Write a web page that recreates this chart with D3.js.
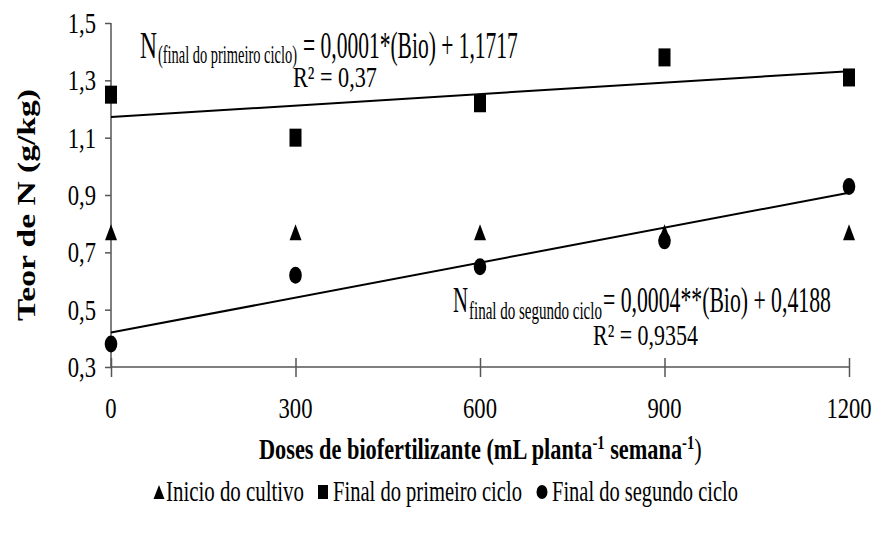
<!DOCTYPE html>
<html>
<head>
<meta charset="utf-8">
<script src="https://cdn.jsdelivr.net/npm/d3@7"></script>
<style>
  html, body { margin: 0; padding: 0; background: #fff; }
</style>
</head>
<body>
<svg id="chart" width="876" height="536"></svg>
<script>
// Doses of biofertilizer (mL planta-1 semana-1)
const doses = [0, 300, 600, 900, 1200];
// N content (g/kg) for each sampling moment
const inicioCultivo = [0.77, 0.77, 0.77, 0.77, 0.77];
const finalPrimeiroCiclo = [1.25, 1.10, 1.22, 1.38, 1.31];
const finalSegundoCiclo = [0.38, 0.62, 0.65, 0.74, 0.93];

const yTicks = [0.3, 0.5, 0.7, 0.9, 1.1, 1.3, 1.5];
const xTicks = [0, 300, 600, 900, 1200];

const legendLabels = ["Inicio do cultivo", "Final do primeiro ciclo", "Final do segundo ciclo"];
const eqPrimeiro = { sub: "(final do primeiro ciclo)", rest: "= 0,0001*(Bio) + 1,1717", r2: "R² = 0,37" };
const eqSegundo = { sub: "final do segundo ciclo", rest: "= 0,0004**(Bio)  + 0,4188", r2: "R² = 0,9354" };

const SERIF = "'Liberation Serif', 'Times New Roman', 'DejaVu Serif', serif";
const svg = d3.select("#chart");
const plot = { left: 111, right: 849, top: 23, bottom: 367 };

const x = d3.scaleLinear().domain([0, 1200]).range([plot.left, plot.right]);
const y = d3.scaleLinear().domain([0.3, 1.5]).range([plot.bottom, plot.top]);

const comma = v => d3.format(".1f")(v).replace(".", ",");
const AXIS = "#555";
const SX = 0.72; // horizontal condensing of the serif labels

// text helper: place and horizontally condense (optionally to a fixed width)
function txt(parent, s, o) {
  const t = parent.append("text")
    .attr("font-family", SERIF)
    .attr("text-anchor", "start")
    .attr("fill", "#000")
    .style("font-size", o.size + "px")
    .style("font-weight", o.bold ? "bold" : "normal")
    .text(s);
  const w = t.node().getComputedTextLength();
  const sx = o.width ? o.width / w : (o.sx || SX);
  let left = o.x;
  if (o.anchor === "middle") left = o.x - w * sx / 2;
  if (o.anchor === "end") left = o.x - w * sx;
  t.attr("transform", `translate(${left},${o.y}) scale(${sx},1)`);
  return t;
}

// ---- axes ----
const yAxis = svg.append("g")
  .attr("transform", `translate(${plot.left},0)`)
  .call(d3.axisLeft(y).tickValues(yTicks).tickSize(6).tickFormat(""));
const xAxis = svg.append("g")
  .attr("transform", `translate(0,${plot.bottom})`)
  .call(d3.axisBottom(x).tickValues(xTicks).tickSize(10).tickFormat(""));
xAxis.selectAll(".tick line").attr("y1", -9).attr("y2", 10);
[yAxis, xAxis].forEach(a => {
  a.select(".domain").attr("stroke", AXIS).attr("stroke-width", 1.5);
  a.selectAll(".tick line").attr("stroke", AXIS).attr("stroke-width", 1.5);
});
yAxis.select(".domain").attr("d", `M0,${plot.top}V${plot.bottom}`);
xAxis.select(".domain").attr("d", `M${plot.left},0H${plot.right}`);

const labels = svg.append("g");
yTicks.forEach(v => txt(labels, comma(v), { x: 96, y: y(v) + 10, size: 29, sx: 0.78, anchor: "end" }));
xTicks.forEach(v => txt(labels, String(v), { x: x(v), y: 418, size: 29, sx: 0.78, anchor: "middle" }));

// axis titles
const xt = svg.append("text")
  .attr("font-family", SERIF).attr("fill", "#000")
  .style("font-size", "29px").style("font-weight", "bold");
xt.append("tspan").text("Doses de biofertilizante  (mL planta");
xt.append("tspan").attr("dy", -10).style("font-size", "19px").text("-1");
xt.append("tspan").attr("dy", 10).text(" semana");
xt.append("tspan").attr("dy", -10).style("font-size", "19px").text("-1");
xt.append("tspan").attr("dy", 10).style("font-weight", "normal").text(")");
{
  const w = xt.node().getComputedTextLength();
  xt.attr("transform", `translate(259,459) scale(${443 / w},1)`);
}

const yt = svg.append("text")
  .attr("font-family", SERIF).attr("fill", "#000")
  .style("font-size", "33px").style("font-weight", "bold")
  .text("Teor de N (g/kg)");
{
  const w = yt.node().getComputedTextLength();
  const len = 232;
  yt.attr("transform", `translate(35,${205 + len / 2}) rotate(-90) scale(${len / w},0.75)`);
}

// ---- least-squares trend lines ----
function fit(xs, ys) {
  const mx = d3.mean(xs), my = d3.mean(ys);
  const b = d3.sum(xs, (v, i) => (v - mx) * (ys[i] - my)) / d3.sum(xs, v => (v - mx) ** 2);
  return { b, a: my - b * mx };
}
const line = d3.line().x(d => x(d[0])).y(d => y(d[1]));
[finalPrimeiroCiclo, finalSegundoCiclo].forEach(series => {
  const f = fit(doses, series);
  const ends = d3.extent(doses).map(d => [d, f.a + f.b * d]);
  svg.append("path").attr("d", line(ends))
    .attr("fill", "none").attr("stroke", "#000").attr("stroke-width", 2);
});

// ---- markers ----
const tri = (w, h) => `M0,${-h / 2}L${w / 2},${h / 2}L${-w / 2},${h / 2}Z`;
const marks = svg.append("g");
marks.selectAll(".tri").data(doses).join("path")
  .attr("d", tri(12, 16))
  .attr("transform", (d, i) => `translate(${x(d)},${y(inicioCultivo[i])})`)
  .attr("fill", "#000");
marks.selectAll(".sq").data(doses).join("rect")
  .attr("x", d => x(d) - 6).attr("y", (d, i) => y(finalPrimeiroCiclo[i]) - 9)
  .attr("width", 12).attr("height", 18).attr("fill", "#000");
marks.selectAll(".dot").data(doses).join("ellipse")
  .attr("cx", d => x(d)).attr("cy", (d, i) => y(finalSegundoCiclo[i]))
  .attr("rx", 6.3).attr("ry", 8.5).attr("fill", "#000");

// ---- regression equations ----
const eq = svg.append("g");
txt(eq, "N", { x: 140, y: 58, size: 37, width: 17 });
txt(eq, eqPrimeiro.sub, { x: 158, y: 63, size: 26, width: 139 });
txt(eq, eqPrimeiro.rest, { x: 303, y: 58, size: 37, width: 215 });
txt(eq, eqPrimeiro.r2, { x: 293, y: 87, size: 30, width: 84 });

txt(eq, "N", { x: 453, y: 312, size: 36, width: 15 });
txt(eq, eqSegundo.sub, { x: 469, y: 319, size: 25, width: 133 });
txt(eq, eqSegundo.rest, { x: 603, y: 312, size: 36, width: 228 });
txt(eq, eqSegundo.r2, { x: 593, y: 345, size: 30, width: 105 });

// ---- legend ----
const lg = svg.append("g");
const ly = 492;
lg.append("path").attr("d", tri(11, 14)).attr("transform", `translate(159,${ly})`).attr("fill", "#000");
txt(lg, legendLabels[0], { x: 166, y: ly + 9, size: 29, width: 138 });
lg.append("rect").attr("x", 318).attr("y", ly - 7).attr("width", 10).attr("height", 14).attr("fill", "#000");
txt(lg, legendLabels[1], { x: 333, y: ly + 9, size: 29, width: 189 });
lg.append("ellipse").attr("cx", 542).attr("cy", ly).attr("rx", 5.5).attr("ry", 7).attr("fill", "#000");
txt(lg, legendLabels[2], { x: 552, y: ly + 9, size: 29, width: 186 });
</script>
</body>
</html>
